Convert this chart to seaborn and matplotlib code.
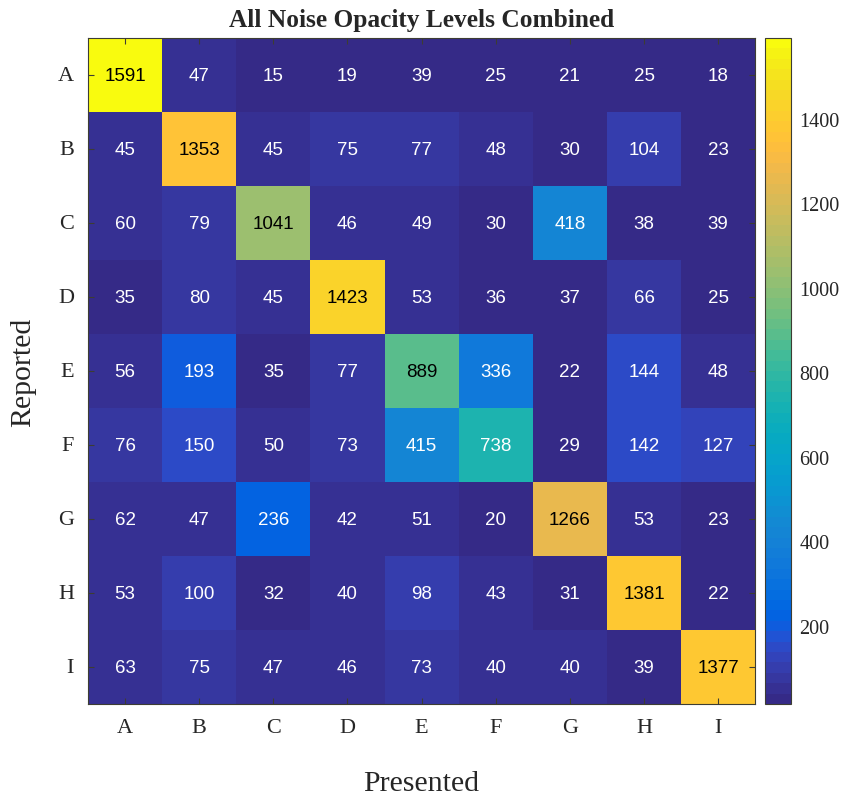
import numpy as np
import pandas as pd
import seaborn as sns
import matplotlib.pyplot as plt
from matplotlib.colors import ListedColormap

# Confusion matrix values (rows = reported, columns = presented)
letters = ['A', 'B', 'C', 'D', 'E', 'F', 'G', 'H', 'I']
row_A = [1591, 47, 15, 19, 39, 25, 21, 25, 18]
row_B = [45, 1353, 45, 75, 77, 48, 30, 104, 23]
row_C = [60, 79, 1041, 46, 49, 30, 418, 38, 39]
row_D = [35, 80, 45, 1423, 53, 36, 37, 66, 25]
row_E = [56, 193, 35, 77, 889, 336, 22, 144, 48]
row_F = [76, 150, 50, 73, 415, 738, 29, 142, 127]
row_G = [62, 47, 236, 42, 51, 20, 1266, 53, 23]
row_H = [53, 100, 32, 40, 98, 43, 31, 1381, 22]
row_I = [63, 75, 47, 46, 73, 40, 40, 39, 1377]
cbar_ticks = [200, 400, 600, 800, 1000, 1200, 1400]

counts = pd.DataFrame([row_A, row_B, row_C, row_D, row_E, row_F, row_G, row_H, row_I],
                      index = letters, columns = letters)

# MATLAB parula colormap (64 colour table)
parula = ListedColormap([
    (0.2081, 0.1663, 0.5292), (0.2116, 0.1898, 0.5777), (0.2123, 0.2138, 0.6270),
    (0.2081, 0.2386, 0.6771), (0.1959, 0.2645, 0.7279), (0.1707, 0.2919, 0.7792),
    (0.1253, 0.3242, 0.8303), (0.0591, 0.3598, 0.8683), (0.0117, 0.3875, 0.8820),
    (0.0060, 0.4086, 0.8828), (0.0165, 0.4266, 0.8786), (0.0329, 0.4430, 0.8720),
    (0.0498, 0.4586, 0.8641), (0.0629, 0.4737, 0.8554), (0.0723, 0.4887, 0.8467),
    (0.0779, 0.5040, 0.8384), (0.0793, 0.5200, 0.8312), (0.0749, 0.5375, 0.8263),
    (0.0641, 0.5570, 0.8240), (0.0488, 0.5772, 0.8228), (0.0343, 0.5966, 0.8199),
    (0.0265, 0.6137, 0.8135), (0.0239, 0.6287, 0.8038), (0.0231, 0.6418, 0.7913),
    (0.0228, 0.6535, 0.7768), (0.0267, 0.6642, 0.7607), (0.0384, 0.6743, 0.7436),
    (0.0590, 0.6838, 0.7254), (0.0843, 0.6928, 0.7062), (0.1133, 0.7015, 0.6859),
    (0.1453, 0.7098, 0.6646), (0.1801, 0.7177, 0.6424), (0.2178, 0.7250, 0.6193),
    (0.2586, 0.7317, 0.5954), (0.3022, 0.7376, 0.5712), (0.3482, 0.7424, 0.5473),
    (0.3953, 0.7459, 0.5244), (0.4420, 0.7481, 0.5033), (0.4871, 0.7491, 0.4840),
    (0.5300, 0.7491, 0.4661), (0.5709, 0.7485, 0.4494), (0.6099, 0.7473, 0.4337),
    (0.6473, 0.7456, 0.4188), (0.6834, 0.7435, 0.4044), (0.7184, 0.7411, 0.3905),
    (0.7525, 0.7384, 0.3768), (0.7858, 0.7356, 0.3633), (0.8185, 0.7327, 0.3498),
    (0.8507, 0.7299, 0.3360), (0.8824, 0.7274, 0.3217), (0.9139, 0.7258, 0.3063),
    (0.9450, 0.7261, 0.2886), (0.9739, 0.7314, 0.2666), (0.9938, 0.7455, 0.2403),
    (0.9990, 0.7653, 0.2164), (0.9955, 0.7861, 0.1967), (0.9880, 0.8066, 0.1794),
    (0.9789, 0.8271, 0.1633), (0.9697, 0.8481, 0.1475), (0.9626, 0.8705, 0.1309),
    (0.9589, 0.8949, 0.1132), (0.9598, 0.9218, 0.0948), (0.9661, 0.9514, 0.0755),
    (0.9763, 0.9831, 0.0538)], name = 'parula')

sns.set_style('white')
plt.rcParams['font.family'] = ['Liberation Serif', 'DejaVu Serif']

fig = plt.figure(figsize = (8.5, 8.03), dpi = 100)
ax = fig.add_axes([0.1035, 0.122, 0.785, 0.8294])
cax = fig.add_axes([0.9, 0.122, 0.0306, 0.8294])

sns.heatmap(counts, ax = ax, cbar_ax = cax, cmap = parula, vmin = 15, vmax = 1591,
            annot = True, fmt = 'd', square = False, linewidths = 0,
            annot_kws = {'fontsize': 13.5, 'family': ['Liberation Sans', 'DejaVu Sans']},
            cbar_kws = {'ticks': cbar_ticks})

# Dark text on bright cells, white elsewhere
for txt in ax.texts:
    txt.set_color('black' if int(txt.get_text()) > 800 else 'white')

edge = '#3d3d33'
ax.set_axisbelow(False)
for spine in ax.spines.values():
    spine.set_visible(True)
    spine.set_color(edge)
    spine.set_linewidth(0.8)
ax.tick_params(axis = 'both', which = 'both', direction = 'in', length = 4,
               color = edge, labelsize = 16, top = True, right = True,
               bottom = True, left = True, pad = 10)
ax.set_yticklabels(letters, rotation = 0)
ax.set_xticklabels(letters, rotation = 0)

ax.set_title('All Noise Opacity Levels Combined', fontsize = 18.3, fontweight = 'bold', pad = 9)
ax.set_xlabel('Presented', fontsize = 21.5, labelpad = 24)
ax.set_ylabel('Reported', fontsize = 21.5, labelpad = 16)

cbar = ax.collections[0].colorbar
cbar.outline.set_visible(True)
cbar.outline.set_edgecolor(edge)
cbar.outline.set_linewidth(0.8)
cax.tick_params(direction = 'in', length = 4, color = edge, labelsize = 14.5, right = True, pad = 6)

fig.savefig('out.png', dpi = 100)
